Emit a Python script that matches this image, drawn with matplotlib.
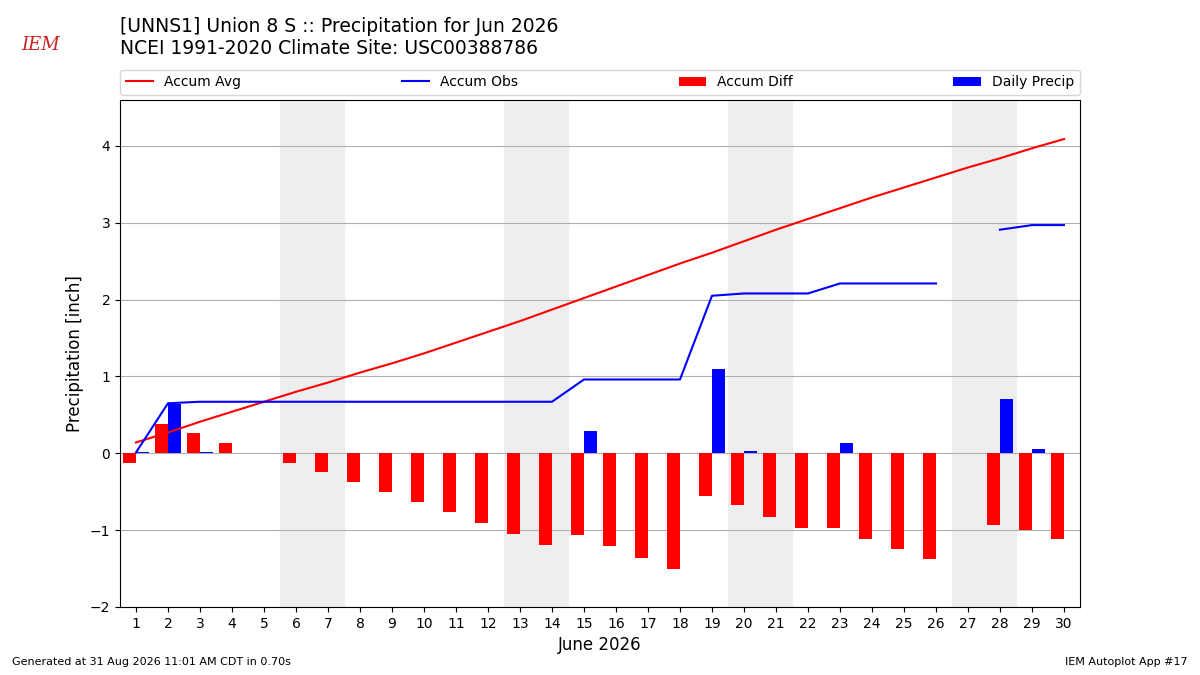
import numpy as np
import matplotlib
matplotlib.use("agg")
import matplotlib.pyplot as plt

days = np.arange(1, 31)
accum_avg = [0.14, 0.27, 0.41, 0.54, 0.67, 0.80, 0.92, 1.05, 1.17, 1.30,
             1.44, 1.58, 1.72, 1.87, 2.02, 2.17, 2.32, 2.47, 2.61, 2.76,
             2.91, 3.05, 3.19, 3.33, 3.46, 3.59, 3.72, 3.84, 3.97, 4.09]
accum_obs = [0.01, 0.65, 0.67, 0.67, 0.67, 0.67, 0.67, 0.67, 0.67, 0.67,
             0.67, 0.67, 0.67, 0.67, 0.96, 0.96, 0.96, 0.96, 2.05, 2.08,
             2.08, 2.08, 2.21, 2.21, 2.21, 2.21, np.nan, 2.91, 2.97, 2.97]
accum_diff = [-0.13, 0.38, 0.26, 0.13, 0.0, -0.13, -0.25, -0.38, -0.50, -0.63,
              -0.77, -0.91, -1.05, -1.20, -1.06, -1.21, -1.36, -1.51, -0.56, -0.68,
              -0.83, -0.97, -0.98, -1.12, -1.25, -1.38, np.nan, -0.93, -1.00, -1.12]
daily = [0.01, 0.64, 0.02, 0, 0, 0, 0, 0, 0, 0,
         0, 0, 0, 0, 0.29, 0, 0, 0, 1.09, 0.03,
         0, 0, 0.13, 0, 0, 0, np.nan, 0.70, 0.06, 0]
weekends = [6, 13, 20, 27]

fig = plt.figure(figsize=(12, 6.75), dpi=100)
ax = fig.add_axes([0.1, 0.101, 0.8, 0.751])

for w in weekends:
    ax.axvspan(w - 0.5, w + 1.5, color="#eeeeee", zorder=0)

ax.plot(days, accum_avg, color="r", label="Accum Avg", zorder=3)
ax.plot(days, accum_obs, color="b", label="Accum Obs", zorder=3)
ax.bar(days - 0.2, accum_diff, width=0.4, color="r", label="Accum Diff", zorder=2)
ax.bar(days + 0.2, daily, width=0.4, color="b", label="Daily Precip", zorder=2)

ax.set_xlim(0.5, 30.5)
ax.set_ylim(-2, 4.6)
ax.set_xticks(days)
ax.grid(axis="y", zorder=1)
ax.set_axisbelow(True)
ax.set_ylabel("Precipitation [inch]", fontsize=12)
ax.set_xlabel("June 2026", fontsize=12)
ax.legend(loc="lower left", bbox_to_anchor=(0, 1.01, 1, 0.05), ncol=4,
          mode="expand", fontsize=10, borderaxespad=0)

fig.text(0.1, 0.945, "[UNNS1] Union 8 S :: Precipitation for Jun 2026\n"
         "NCEI 1991-2020 Climate Site: USC00388786", fontsize=13.5, va="center")
fig.text(0.018, 0.933, "IEM", color="#cc2222", fontsize=13, style="italic",
         family="serif", va="center")
fig.text(0.01, 0.015, "Generated at 31 Aug 2026 11:01 AM CDT in 0.70s", fontsize=8)
fig.text(0.99, 0.015, "IEM Autoplot App #17", fontsize=8, ha="right")

plt.savefig("out.png", dpi=100)
